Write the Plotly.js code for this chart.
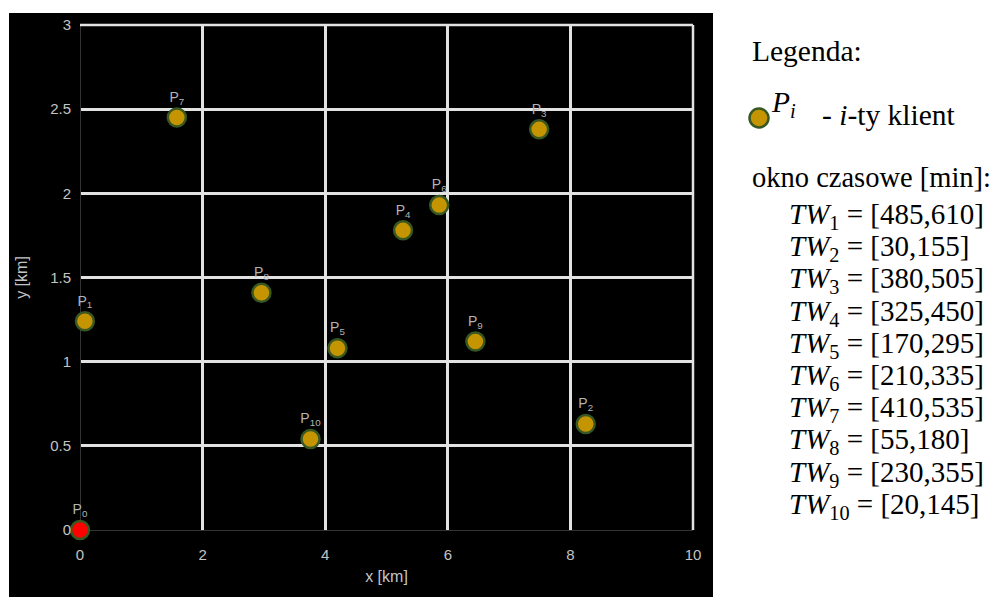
<!DOCTYPE html>
<html>
<head>
<meta charset="utf-8">
<script src="https://cdn.plot.ly/plotly-3.0.1.min.js"></script>
<style>html,body{margin:0;padding:0;background:#fff;}#chart{width:996px;height:597px;}</style>
</head>
<body>
<div id="chart"></div>
<script>
// ---- data ----
const clientNames = ["P<sub>1</sub>","P<sub>2</sub>","P<sub>3</sub>","P<sub>4</sub>","P<sub>5</sub>","P<sub>6</sub>","P<sub>7</sub>","P<sub>8</sub>","P<sub>9</sub>","P<sub>10</sub>"];
const clientX = [0.08, 8.25, 7.49, 5.27, 4.20, 5.86, 1.58, 2.96, 6.45, 3.76];
const clientY = [1.24, 0.63, 2.38, 1.78, 1.08, 1.93, 2.45, 1.41, 1.12, 0.54];
const depotName = ["P<sub>0</sub>"];
const depotX = [0];
const depotY = [0];
const twIndex = ["1","2","3","4","5","6","7","8","9","10"];
const twStart = [485, 30, 380, 325, 170, 210, 410, 55, 230, 20];
const twEnd   = [610, 155, 505, 450, 295, 335, 535, 180, 355, 145];
const xTicks = [0, 2, 4, 6, 8, 10];
const yTicks = [0, 0.5, 1, 1.5, 2, 2.5, 3];

// ---- layout helpers (pixel -> paper) ----
const L = 80, R = 693, T = 25, B = 530;
const px = v => (v - L) / (R - L);
const py = v => (B - v) / (B - T);

const gold = '#c49500', green = '#385723';
const serif = 'Liberation Serif, Times New Roman, serif';
const gridCol = '#e2e2e2';

const traces = [
  {x: clientX, y: clientY, text: clientNames, type: 'scatter', mode: 'markers+text',
   textposition: 'top center', cliponaxis: false, hoverinfo: 'skip',
   textfont: {family: 'Liberation Sans, Arial', size: 14, color: '#b4b4b4'},
   marker: {size: 18, color: gold, line: {color: green, width: 2.5}}},
  {x: depotX, y: depotY, text: depotName, type: 'scatter', mode: 'markers+text',
   textposition: 'top center', cliponaxis: false, hoverinfo: 'skip',
   textfont: {family: 'Liberation Sans, Arial', size: 14, color: '#b4b4b4'},
   marker: {size: 18, color: '#ff0000', line: {color: green, width: 2.5}}}
];

const annotations = [
  {text: 'Legenda:', x: px(750), y: py(51), xanchor: 'left', yanchor: 'middle', size: 29.5},
  {text: '<i>P</i><sub><i>i</i></sub>', x: px(769), y: py(104), xanchor: 'left', yanchor: 'middle', size: 29.5},
  {text: '- <i>i</i>-ty klient', x: px(820), y: py(115), xanchor: 'left', yanchor: 'middle', size: 29.5},
  {text: 'okno czasowe [min]:', x: px(750), y: py(177), xanchor: 'left', yanchor: 'middle', size: 28.5}
];
twIndex.forEach((k, i) => {
  annotations.push({
    text: '<i>TW</i><sub>' + k + '</sub> = [' + twStart[i] + ',' + twEnd[i] + ']',
    x: px(787), y: py(216 + 32.2 * i), xanchor: 'left', yanchor: 'middle', size: 29
  });
});
annotations.forEach(a => {
  a.xref = 'paper'; a.yref = 'paper'; a.showarrow = false;
  a.font = {family: serif, size: a.size, color: '#000'};
  delete a.size;
});

const shapes = [
  {type: 'rect', xref: 'paper', yref: 'paper', x0: px(9), x1: px(713), y0: py(597), y1: py(13),
   fillcolor: '#000', line: {width: 0}, layer: 'below'},
  // plot frame: top and right edges
  {type: 'line', xref: 'paper', yref: 'paper', x0: 0, x1: 1, y0: 1, y1: 1,
   line: {color: gridCol, width: 2.5}},
  {type: 'line', xref: 'paper', yref: 'paper', x0: 1, x1: 1, y0: 0, y1: 1,
   line: {color: gridCol, width: 2.5}},
  {type: 'circle', xref: 'paper', yref: 'paper', xsizemode: 'pixel', ysizemode: 'pixel',
   xanchor: px(759), yanchor: py(118), x0: -9.5, x1: 9.5, y0: -9.5, y1: 9.5,
   fillcolor: gold, line: {color: green, width: 2.5}}
];

const tickFont = {family: 'Liberation Sans, Arial', size: 15, color: '#c4c4c4'};
const titleFont = {family: 'Liberation Sans, Arial', size: 16, color: '#c4c4c4'};

const layout = {
  width: 996, height: 597,
  margin: {l: L, r: 996 - R, t: T, b: 597 - B, pad: 0},
  paper_bgcolor: '#ffffff', plot_bgcolor: 'rgba(0,0,0,0)',
  showlegend: false,
  xaxis: {range: [0, 10], tickvals: xTicks, ticks: '', ticklabelstandoff: 14,
          showgrid: true, gridcolor: gridCol, gridwidth: 3,
          zeroline: true, zerolinecolor: '#333', zerolinewidth: 1,
          showline: false, tickfont: tickFont, automargin: false,
          title: {text: 'x [km]', font: titleFont, standoff: 8}},
  yaxis: {range: [0, 3], tickvals: yTicks, ticks: '', ticklabelstandoff: 8,
          showgrid: true, gridcolor: gridCol, gridwidth: 3,
          zeroline: true, zerolinecolor: '#333', zerolinewidth: 1,
          showline: false, tickfont: tickFont, automargin: false,
          title: {text: 'y [km]', font: titleFont, standoff: 18}},
  annotations: annotations,
  shapes: shapes
};

Plotly.newPlot('chart', traces, layout, {staticPlot: true, displayModeBar: false});
</script>
</body>
</html>
